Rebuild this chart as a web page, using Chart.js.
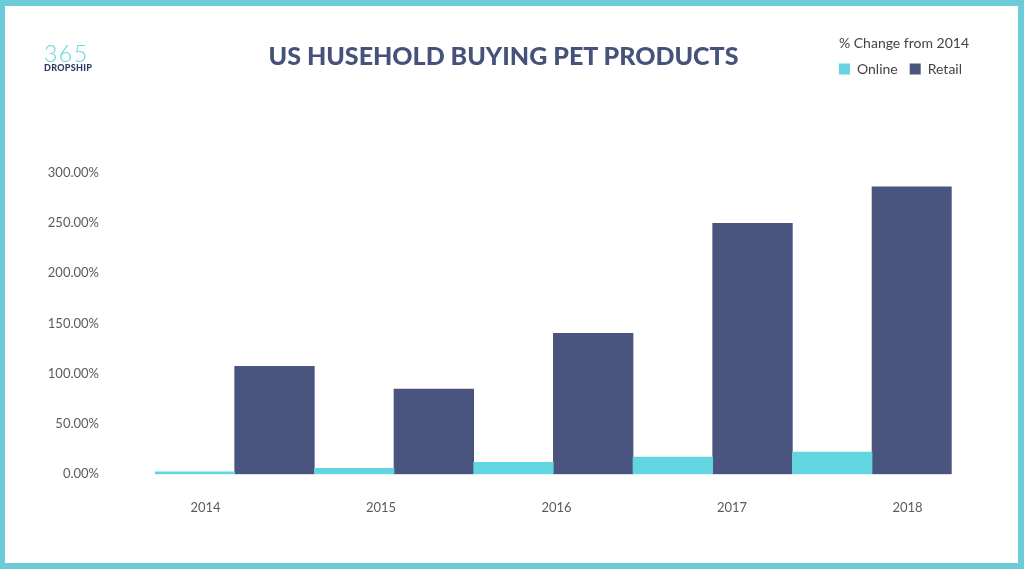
<!DOCTYPE html>
<html>
<head>
<meta charset="utf-8">
<script src="https://cdn.jsdelivr.net/npm/chart.js@4.4.1/dist/chart.umd.min.js"></script>
<style>
  html, body { margin: 0; padding: 0; background: #fff; }
  #frame { position: relative; width: 1024px; height: 569px; overflow: hidden; font-family: Lato, "Noto Sans", sans-serif; }
  #chartBox { position: absolute; left: 0; top: 0; width: 1024px; height: 569px; }
  .border { position: absolute; left: 0; top: 0; width: 1024px; height: 569px; box-sizing: border-box; border: 6px solid #6ccbd6; border-left-width: 5px; pointer-events: none; }
  .logo { position: absolute; left: 44px; top: 42px; line-height: 1; }
  .logo .num { font-size: 23px; font-weight: 300; color: #63d5e0; letter-spacing: 1.5px; }
  .logo .name { font-size: 9px; font-weight: 900; color: #2f3a5e; letter-spacing: 0.3px; margin-top: -2px; }
  .title { position: absolute; left: 0; width: 1007px; top: 41px; text-align: center; font-size: 25px; line-height: 28px; font-weight: 900; color: #47527b; }
</style>
</head>
<body>
<div id="frame">
  <div id="chartBox"><canvas id="chart"></canvas></div>
  <div class="logo"><div class="num">365</div><div class="name">DROPSHIP</div></div>
  <div class="title">US HUSEHOLD BUYING PET PRODUCTS</div>
  <div class="border"></div>
</div>
<script>
// values, % change from 2014
const years = ['2014', '2015', '2016', '2017', '2018'];
const online = [2.5, 6, 12, 17, 22];
const retail = [107.4, 84.8, 140.2, 249.5, 285.6];
const yMax = 300;
const yStep = 50;

const TEAL = '#62d5e0';
const NAVY = '#4a557f';
const TICK_COLOR = '#5b5b5b';

// push the plot area down below the legend
const legendSpacer = {
  id: 'legendSpacer',
  beforeInit(chart) {
    const fit = chart.legend.fit;
    chart.legend.fit = function () {
      fit.bind(chart.legend)();
      this.height = 172.4 - 23;
    };
  }
};

const ctx = document.getElementById('chart').getContext('2d');
new Chart(ctx, {
  type: 'bar',
  data: {
    labels: years,
    datasets: [
      { label: 'Online', data: online, backgroundColor: TEAL, xAxisID: 'x' },
      { label: 'Retail', data: retail, backgroundColor: NAVY, xAxisID: 'x' }
    ]
  },
  options: {
    responsive: true,
    maintainAspectRatio: false,
    animation: false,
    categoryPercentage: 1,
    barPercentage: 1,
    layout: { padding: { left: 45, right: 50, top: 23, bottom: 569 - 474.3 - 60 } },
    scales: {
      x: {
        type: 'category',
        display: false,
        offset: true
      },
      // year labels sit on their own spacing, wider than the bar groups
      xl: {
        type: 'linear',
        position: 'bottom',
        offset: false,
        min: -0.2877,
        max: 4.2519,
        grid: { display: false, drawTicks: false, offset: false },
        border: { display: false },
        afterBuildTicks: (axis) => { axis.ticks = years.map((_, i) => ({ value: i })); },
        afterFit: (axis) => { axis.height = 60; },
        ticks: {
          padding: 26,
          maxRotation: 0,
          autoSkip: false,
          color: TICK_COLOR,
          font: { family: 'Lato', size: 13 },
          callback: (v) => years[v]
        }
      },
      y: {
        min: 0,
        max: yMax,
        grid: { display: false, drawTicks: false },
        border: { display: false },
        afterFit: (axis) => { axis.width = 110; },
        ticks: {
          stepSize: yStep,
          padding: 56,
          color: TICK_COLOR,
          font: { family: 'Lato', size: 13 },
          callback: (v) => v.toFixed(2) + '%'
        }
      },
      r: {
        type: 'linear',
        position: 'right',
        grid: { display: false, drawTicks: false },
        border: { display: false },
        ticks: { display: false },
        afterFit: (axis) => { axis.width = 22.3; }
      }
    },
    plugins: {
      tooltip: { enabled: false },
      legend: {
        position: 'top',
        align: 'end',
        title: {
          display: true,
          text: '% Change from 2014',
          position: 'start',
          color: '#444',
          font: { family: 'Lato', size: 14, lineHeight: 1 },
          padding: { top: 13, bottom: 0 }
        },
        labels: {
          boxWidth: 11,
          boxHeight: 11,
          padding: 12,
          color: '#444',
          font: { family: 'Lato', size: 14 }
        }
      }
    }
  },
  plugins: [legendSpacer]
});
</script>
</body>
</html>
